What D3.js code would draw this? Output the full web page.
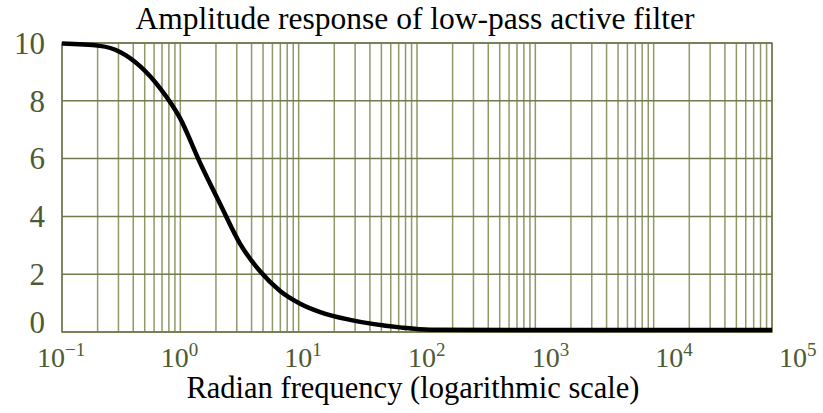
<!DOCTYPE html>
<html>
<head>
<meta charset="utf-8">
<script src="https://cdn.jsdelivr.net/npm/d3@7"></script>
<style>
  body { margin: 0; background: #fff; }
  svg { display: block; }
</style>
</head>
<body>
<div id="chart"></div>
<script>
// values
var freq = [0.1, 0.209, 0.309, 0.456, 0.673, 0.994, 1.47, 2.17, 3.2, 4.72, 6.97, 10.3, 15.2, 27.2, 71.9, 129, 1000, 10000, 100000];
var amp  = [9.98, 9.9, 9.69, 9.2, 8.44, 7.4, 5.85, 4.43, 3.05, 2.1, 1.42, 0.98, 0.69, 0.42, 0.16, 0.08, 0.07, 0.07, 0.07];
var yTicks = [0, 2, 4, 6, 8, 10];
var xDecades = [-1, 0, 1, 2, 3, 4, 5];

var W = 823, H = 413;
var plotL = 62, plotR = 772, plotT = 43, plotB = 332;

var svg = d3.select("#chart").append("svg")
    .attr("width", W)
    .attr("height", H);

var x = d3.scaleLog().domain([0.1, 1e5]).range([plotL, plotR]);
var y = d3.scaleLinear().domain([0, 10]).range([plotB, plotT]);
// the printed labels sit a little wider apart than the grid
var xLab = d3.scaleLog().domain([0.1, 1e5]).range([51, 793]);

var gridColor = "#8f9a68";
var labColor = "#4d5a34";

// vertical grid: 1..9 of every decade
var vlines = [];
for (var e = -1; e < 5; e++) {
  for (var m = 1; m <= 9; m++) vlines.push(m * Math.pow(10, e));
}
vlines.push(1e5);

svg.append("g").selectAll("line")
  .data(vlines)
  .enter().append("line")
    .attr("x1", function(d){ return x(d); })
    .attr("x2", function(d){ return x(d); })
    .attr("y1", plotT)
    .attr("y2", plotB)
    .attr("stroke", gridColor)
    .attr("stroke-width", 1.5);

svg.append("g").selectAll("line")
  .data(yTicks)
  .enter().append("line")
    .attr("x1", plotL)
    .attr("x2", plotR)
    .attr("y1", function(d){ return y(d); })
    .attr("y2", function(d){ return y(d); })
    .attr("stroke", "#6f7a4e")
    .attr("stroke-width", 1.5);

svg.append("rect")
  .attr("x", plotL).attr("y", plotT)
  .attr("width", plotR - plotL).attr("height", plotB - plotT)
  .attr("fill", "none")
  .attr("stroke", "#6f7a4e")
  .attr("stroke-width", 1.5);

// y labels (the 0 sits a bit above its line, as printed)
svg.append("g").selectAll("text")
  .data(yTicks)
  .enter().append("text")
    .attr("x", 45)
    .attr("y", function(d){ return y(d) - (d === 0 ? 10 : 0); })
    .attr("dy", "0.35em")
    .attr("text-anchor", "end")
    .attr("font-family", "Liberation Serif, serif")
    .attr("font-size", 31)
    .attr("fill", labColor)
    .text(function(d){ return d; });

// x labels 10^n
var xl = svg.append("g").selectAll("text")
  .data(xDecades)
  .enter().append("text")
    .attr("x", function(d){ return xLab(Math.pow(10, d)) - 14; })
    .attr("y", 367)
    .attr("font-family", "Liberation Serif, serif")
    .attr("font-size", 28)
    .attr("fill", labColor);
xl.append("tspan").text("10");
xl.append("tspan")
    .attr("dy", -11)
    .attr("font-size", 19)
    .text(function(d){ return d < 0 ? "\u2212" + (-d) : d; });

// curve
var line = d3.line()
    .x(function(d, i){ return x(freq[i]); })
    .y(function(d){ return y(d); })
    .curve(d3.curveMonotoneX);

svg.append("path")
  .datum(amp)
  .attr("d", line)
  .attr("fill", "none")
  .attr("stroke", "#000")
  .attr("stroke-width", 4.5);

svg.append("text")
  .attr("x", 415).attr("y", 29)
  .attr("text-anchor", "middle")
  .attr("font-family", "Liberation Serif, serif")
  .attr("font-size", 31.5)
  .attr("fill", "#000")
  .text("Amplitude response of low-pass active filter");

svg.append("text")
  .attr("x", 413).attr("y", 398)
  .attr("text-anchor", "middle")
  .attr("font-family", "Liberation Serif, serif")
  .attr("font-size", 30.5)
  .attr("fill", "#000")
  .text("Radian frequency (logarithmic scale)");
</script>
</body>
</html>
